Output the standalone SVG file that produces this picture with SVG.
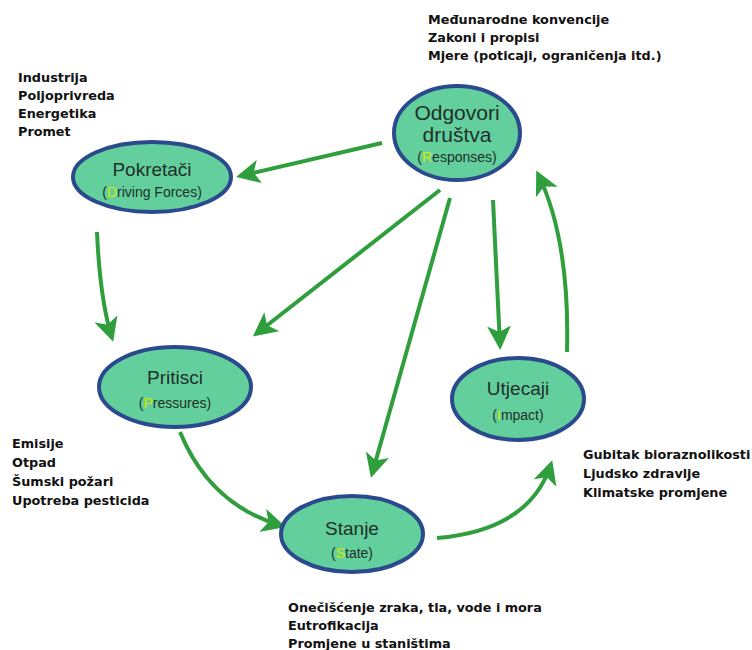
<svg xmlns="http://www.w3.org/2000/svg" width="752" height="650" viewBox="0 0 752 650">
<defs>
<marker id="ah" viewBox="0 0 12 12" refX="10" refY="6" markerWidth="6" markerHeight="6" orient="auto" markerUnits="strokeWidth">
<path d="M0,0 L12,6 L0,12 L3,6 Z" fill="#2f9e3c"/>
</marker>
<style>
.node ellipse{fill:#63cf9d;stroke:#2b4a8e;stroke-width:4}
.t{font-family:"Liberation Sans",Arial,sans-serif;font-size:19px;fill:#1f2f2a;text-anchor:middle}
.s{font-family:"Liberation Sans",Arial,sans-serif;font-size:14px;fill:#1f2f2a;text-anchor:middle}
.h{fill:#d4e800}
.lbl{font-family:"DejaVu Sans",Verdana,sans-serif;font-size:12.8px;font-weight:bold;fill:#111}
#edges path{fill:none;stroke:#2f9e3c;stroke-width:4;marker-end:url(#ah)}
</style>
</defs>
<rect width="752" height="650" fill="#fff"/>
<g id="edges">
<path d="M382,143 L240,176"/>
<path d="M97,232 Q100,300 112,338"/>
<path d="M440,190 L256,334"/>
<path d="M450,198 L372,474"/>
<path d="M493,200 L500,346"/>
<path d="M567,352 Q570,240 538,174"/>
<path d="M180,432 Q210,505 282,526"/>
<path d="M437,538 Q530,530 551,464"/>
</g>
<g id="pokretaci" class="node">
<ellipse cx="152" cy="177" rx="79" ry="35"/>
<text class="t" x="152" y="176">Pokretači</text>
<text class="s" x="152" y="197">(<tspan class="h">D</tspan>riving Forces)</text>
</g>
<g id="odgovori" class="node">
<ellipse cx="457" cy="133" rx="63" ry="47"/>
<text class="t" x="457" y="120" style="font-size:21px">Odgovori</text>
<text class="t" x="457" y="142" style="font-size:21px">društva</text>
<text class="s" x="457" y="162">(<tspan class="h">R</tspan>esponses)</text>
</g>
<g id="pritisci" class="node">
<ellipse cx="175" cy="387" rx="76" ry="40"/>
<text class="t" x="175" y="384">Pritisci</text>
<text class="s" x="175" y="408">(<tspan class="h">P</tspan>ressures)</text>
</g>
<g id="utjecaji" class="node">
<ellipse cx="518" cy="399" rx="66" ry="41"/>
<text class="t" x="518" y="395">Utjecaji</text>
<text class="s" x="518" y="420">(<tspan class="h">I</tspan>mpact)</text>
</g>
<g id="stanje" class="node">
<ellipse cx="352" cy="534" rx="71" ry="38"/>
<text class="t" x="352" y="535">Stanje</text>
<text class="s" x="352" y="558">(<tspan class="h">S</tspan>tate)</text>
</g>
<g id="labels">
<text class="lbl" x="18" y="82">Industrija</text>
<text class="lbl" x="18" y="100">Poljoprivreda</text>
<text class="lbl" x="18" y="118">Energetika</text>
<text class="lbl" x="18" y="136">Promet</text>
<text class="lbl" x="428" y="24">Međunarodne konvencije</text>
<text class="lbl" x="428" y="42">Zakoni i propisi</text>
<text class="lbl" x="428" y="60">Mjere (poticaji, ograničenja itd.)</text>
<text class="lbl" x="12" y="448">Emisije</text>
<text class="lbl" x="12" y="467">Otpad</text>
<text class="lbl" x="12" y="486">Šumski požari</text>
<text class="lbl" x="12" y="505">Upotreba pesticida</text>
<text class="lbl" x="583" y="459">Gubitak bioraznolikosti</text>
<text class="lbl" x="583" y="478">Ljudsko zdravlje</text>
<text class="lbl" x="583" y="497">Klimatske promjene</text>
<text class="lbl" x="288" y="612">Onečišćenje zraka, tla, vode i mora</text>
<text class="lbl" x="288" y="630">Eutrofikacija</text>
<text class="lbl" x="288" y="648">Promjene u staništima</text>
</g>
</svg>
